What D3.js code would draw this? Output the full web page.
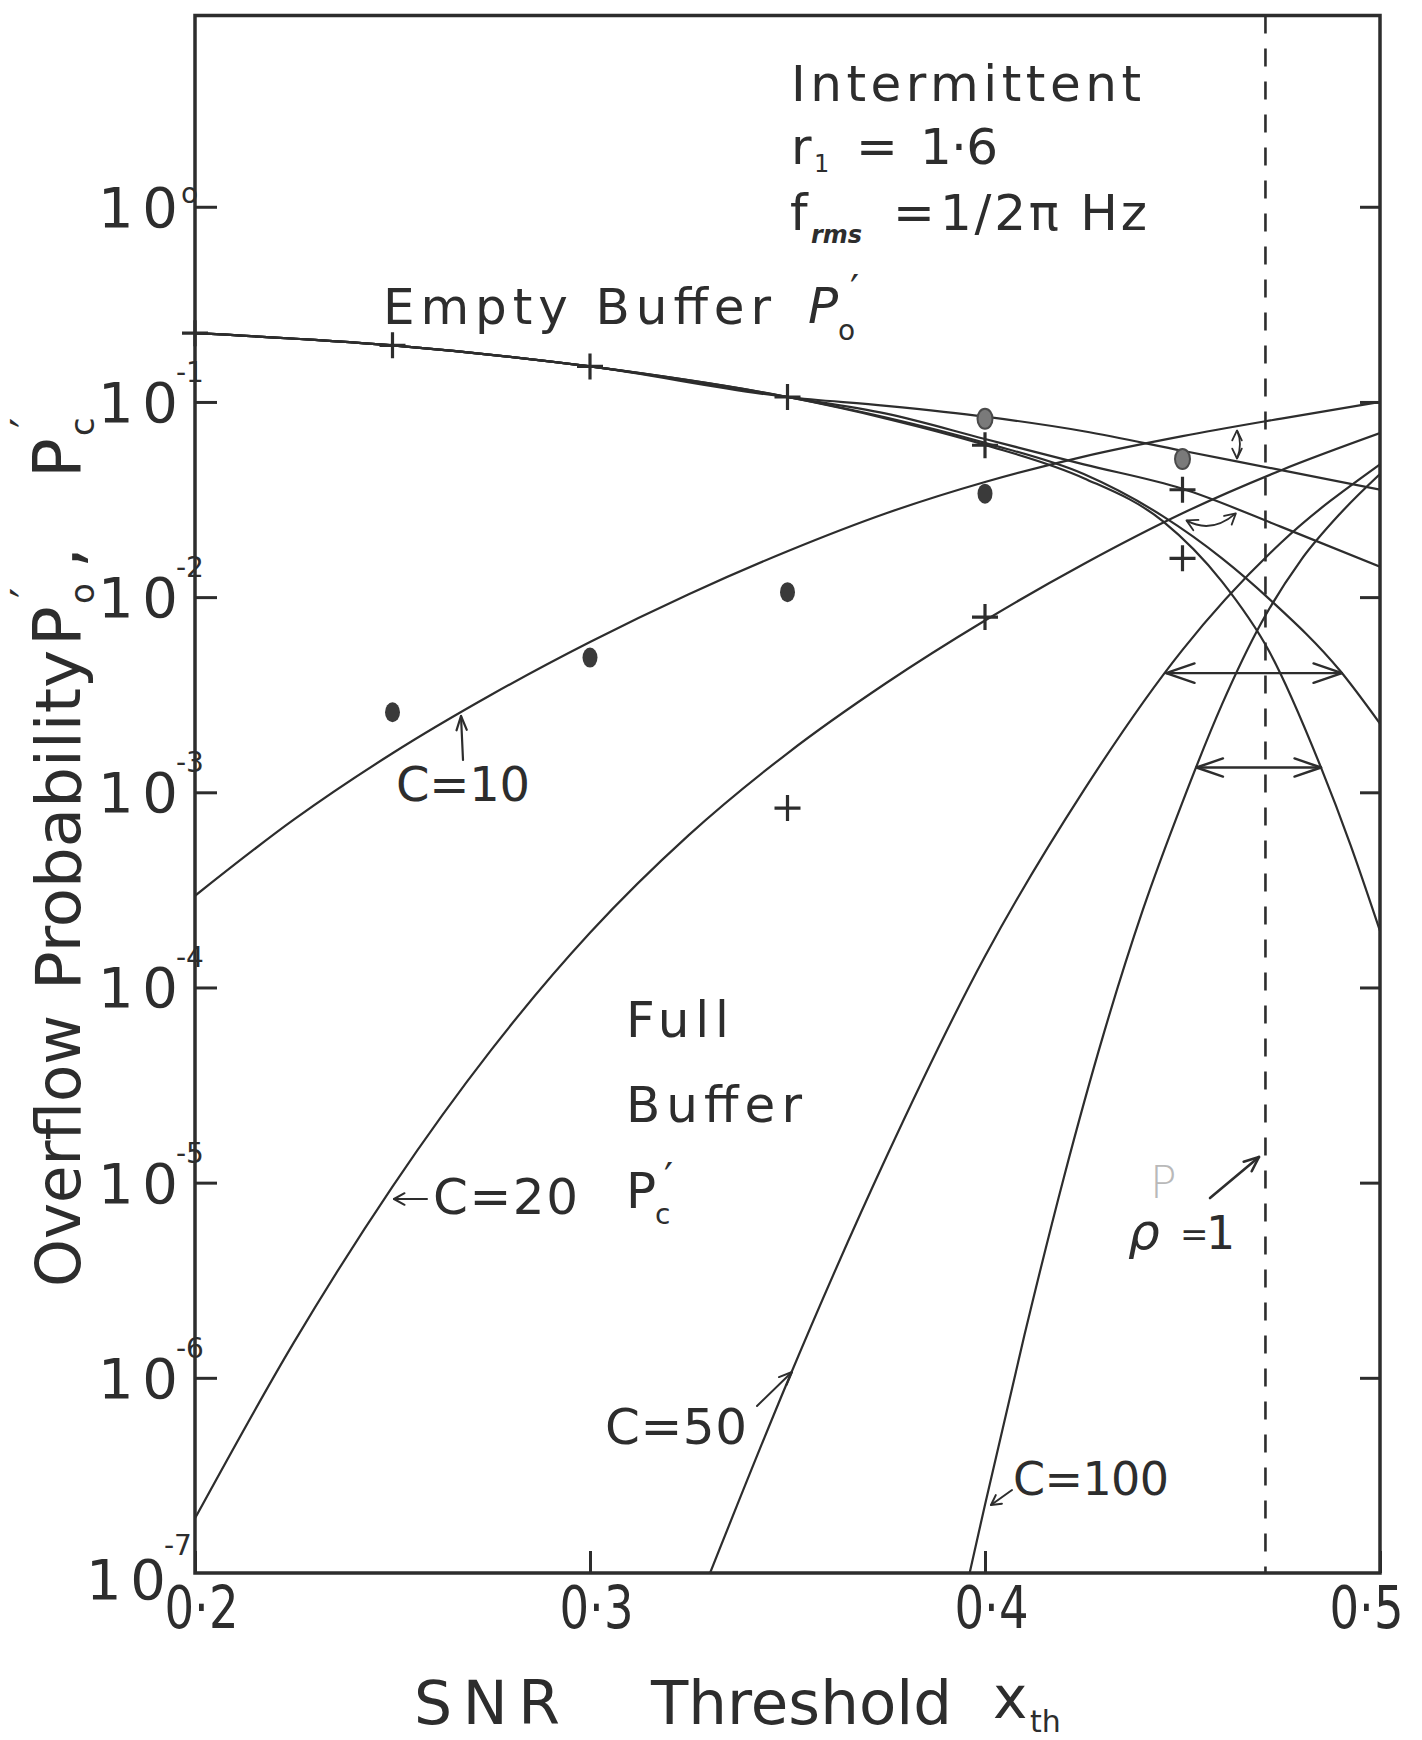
<!DOCTYPE html>
<html>
<head>
<meta charset="utf-8">
<script src="https://cdn.jsdelivr.net/npm/d3@7"></script>
<style>
  body { margin: 0; background: #ffffff; }
  svg { display: block; }
  text { font-family: "DejaVu Sans", "Liberation Sans", sans-serif; fill: #2d2d2d; }
</style>
</head>
<body>
<svg id="chart" width="1422" height="1740"></svg>
<script>
// ---- Analytic curves: empty-buffer probability P0' for each buffer size C ----
const emptyBufferX     = [0.20, 0.25, 0.30, 0.35, 0.375, 0.40, 0.425, 0.45, 0.475, 0.50];
const emptyBufferC10   = [0.225, 0.195, 0.152, 0.106, 0.0955, 0.0841, 0.0708, 0.0562, 0.0447, 0.0355];
const emptyBufferC20   = [0.225, 0.195, 0.152, 0.106, 0.0871, 0.0646, 0.0479, 0.0359, 0.0229, 0.0143];
const emptyBufferC50X  = [0.20, 0.25, 0.30, 0.35, 0.375, 0.40, 0.425, 0.445, 0.46, 0.472, 0.49, 0.50];
const emptyBufferC50   = [0.225, 0.195, 0.152, 0.106, 0.0832, 0.0617, 0.0427, 0.0260, 0.0158, 0.00977, 0.00417, 0.00225];
const emptyBufferC100X = [0.20, 0.25, 0.30, 0.35, 0.375, 0.40, 0.425, 0.445, 0.46, 0.472, 0.485, 0.4925, 0.50];
const emptyBufferC100  = [0.225, 0.195, 0.152, 0.106, 0.0822, 0.0603, 0.0407, 0.0245, 0.0120, 0.00525, 0.00135, 5.4e-4, 1.95e-4];

// ---- Analytic curves: full-buffer probability Pc' for each buffer size C ----
const fullBufferX     = [0.20, 0.225, 0.25, 0.275, 0.30, 0.325, 0.35, 0.375, 0.40, 0.425, 0.45, 0.475, 0.50];
const fullBufferC10   = [2.95e-4, 7.24e-4, 1.585e-3, 3.16e-3, 5.89e-3, 1.035e-2, 1.718e-2, 2.69e-2, 3.89e-2, 5.25e-2, 6.68e-2, 8.22e-2, 0.100];
const fullBufferC20   = [1.905e-7, 1.514e-6, 9.55e-6, 4.79e-5, 1.905e-4, 6.03e-4, 1.585e-3, 3.63e-3, 7.59e-3, 1.479e-2, 2.69e-2, 4.47e-2, 6.92e-2];
const fullBufferC50X  = [0.33, 0.35, 0.375, 0.40, 0.425, 0.45, 0.475, 0.50];
const fullBufferC50   = [9.55e-8, 9.55e-7, 1.349e-5, 1.445e-4, 1.023e-3, 5.37e-3, 1.905e-2, 4.79e-2];
const fullBufferC100X = [0.395, 0.40, 0.41, 0.42, 0.43, 0.44, 0.45, 0.46, 0.47, 0.48, 0.49, 0.50];
const fullBufferC100  = [7.94e-8, 2.24e-7, 1.66e-6, 1.07e-5, 5.75e-5, 2.51e-4, 8.91e-4, 2.82e-3, 7.41e-3, 1.549e-2, 2.69e-2, 4.27e-2];

// ---- Simulation points ----
const simPlusX     = [0.20, 0.25, 0.30, 0.35, 0.40, 0.45, 0.45, 0.35, 0.40];
const simPlusP     = [0.225, 0.195, 0.152, 0.106, 0.060, 0.0355, 0.0158, 8.3e-4, 7.9e-3];
const simDotFullX  = [0.25, 0.30, 0.35, 0.40];
const simDotFullP  = [2.57e-3, 4.9e-3, 1.06e-2, 3.39e-2];
const simDotEmptyX = [0.40, 0.45];
const simDotEmptyP = [0.082, 0.051];

// ---- Axes ----
const yExponents  = [0, -1, -2, -3, -4, -5, -6, -7];
const xTickValues = [0.2, 0.3, 0.4, 0.5];
const xTickLabels = ["0·2", "0·3", "0·4", "0·5"];
const rhoOneX = 0.471;   // threshold at which rho = 1

const ink = "#2d2d2d";
const svg = d3.select("#chart");

const x = d3.scaleLinear().domain([0.2, 0.5]).range([195, 1380]);
const y = d3.scaleLog().domain([1e-7, Math.pow(10, 0.98)]).range([1573, 15.5]);

const [x0, x1] = x.range();
const [yb, yt] = y.range();

svg.append("defs").append("clipPath").attr("id", "plotArea")
  .append("rect").attr("x", x0).attr("y", yt).attr("width", x1 - x0).attr("height", yb - yt);

// ---- helpers ----
const zip = (xs, ps) => xs.map((v, i) => [v, ps[i]]);
function valueAt(xs, ps, xv) {
  for (let i = 0; i < xs.length - 1; i++) {
    if (xv >= xs[i] && xv <= xs[i + 1]) {
      const t = (xv - xs[i]) / (xs[i + 1] - xs[i]);
      return Math.pow(10, Math.log10(ps[i]) + t * (Math.log10(ps[i + 1]) - Math.log10(ps[i])));
    }
  }
  return ps[ps.length - 1];
}
function thresholdAt(xs, ps, pv) {
  const lv = Math.log10(pv);
  for (let i = 0; i < xs.length - 1; i++) {
    const a = Math.log10(ps[i]), b = Math.log10(ps[i + 1]);
    if ((lv - a) * (lv - b) <= 0 && a !== b) {
      return xs[i] + (lv - a) / (b - a) * (xs[i + 1] - xs[i]);
    }
  }
  return xs[xs.length - 1];
}
function chevron(g, fx, fy, tx, ty, len, spread, width) {
  const a = Math.atan2(ty - fy, tx - fx);
  const p1 = [tx - len * Math.cos(a - spread), ty - len * Math.sin(a - spread)];
  const p2 = [tx - len * Math.cos(a + spread), ty - len * Math.sin(a + spread)];
  g.append("path").attr("d", `M${p1[0]},${p1[1]}L${tx},${ty}L${p2[0]},${p2[1]}`)
    .attr("fill", "none").attr("stroke", ink).attr("stroke-width", width || 2.2)
    .attr("stroke-linejoin", "round").attr("stroke-linecap", "round");
}
function arrowLine(g, fx, fy, tx, ty, len, spread, width) {
  g.append("line").attr("x1", fx).attr("y1", fy).attr("x2", tx).attr("y2", ty)
    .attr("stroke", ink).attr("stroke-width", width || 2.2).attr("stroke-linecap", "round");
  chevron(g, fx, fy, tx, ty, len, spread, width);
}

// ---- ticks (inward) ----
const decadeTicks = yExponents.slice(0, 7).map(e => Math.pow(10, e));
const styleTicks = g => {
  g.select(".domain").remove();
  g.selectAll(".tick line").attr("stroke", ink).attr("stroke-width", 3);
};
svg.append("g").attr("transform", `translate(${x0},0)`)
  .call(d3.axisLeft(y).tickValues(decadeTicks).tickSize(-22).tickFormat(""))
  .call(styleTicks);
svg.append("g").attr("transform", `translate(${x1},0)`)
  .call(d3.axisRight(y).tickValues(decadeTicks).tickSize(-20).tickFormat(""))
  .call(styleTicks);
const gBottom = svg.append("g").attr("transform", `translate(0,${yb})`)
  .call(d3.axisBottom(x).tickValues(xTickValues).tickSize(-22).tickPadding(14)
    .tickFormat((d, i) => xTickLabels[i]))
  .call(styleTicks);
const lastTick = xTickLabels.length - 1;
gBottom.selectAll(".tick text")
  .attr("font-family", "DejaVu Sans").attr("font-size", 58).attr("fill", ink)
  .attr("x", (d, i) => i === lastTick ? -14 : 6)
  .attr("textLength", 74).attr("lengthAdjust", "spacingAndGlyphs");

// y tick labels: 10 with a raised exponent
const yLab = svg.append("g");
yExponents.forEach(e => {
  const v = Math.pow(10, e);
  const last = e === -7;
  const xr = last ? 166 : 178;
  const base = y(v) + (last ? 26 : 20);
  yLab.append("text").attr("x", xr).attr("y", base).attr("text-anchor", "end")
    .attr("font-size", 56).attr("textLength", 80).attr("lengthAdjust", "spacing").text("10");
  if (e === 0) {
    yLab.append("text").attr("x", xr + 3).attr("y", y(v) - 4).attr("font-size", 28).text("o");
  } else {
    yLab.append("text").attr("x", xr - 2).attr("y", y(v) - (last ? 18 : 20))
      .attr("font-size", 28).text("-" + (-e));
  }
});

// ---- frame ----
svg.append("rect").attr("x", x0).attr("y", yt).attr("width", x1 - x0).attr("height", yb - yt)
  .attr("fill", "none").attr("stroke", ink).attr("stroke-width", 3.5);

// ---- rho = 1 boundary ----
svg.append("line").attr("x1", x(rhoOneX)).attr("x2", x(rhoOneX)).attr("y1", yt).attr("y2", yb)
  .attr("stroke", ink).attr("stroke-width", 2.6).attr("stroke-dasharray", "18 15");

// ---- curves ----
const line = d3.line().x(d => x(d[0])).y(d => y(d[1])).curve(d3.curveMonotoneX);
const curveSets = [
  zip(emptyBufferX, emptyBufferC10), zip(emptyBufferX, emptyBufferC20),
  zip(emptyBufferC50X, emptyBufferC50), zip(emptyBufferC100X, emptyBufferC100),
  zip(fullBufferX, fullBufferC10), zip(fullBufferX, fullBufferC20),
  zip(fullBufferC50X, fullBufferC50), zip(fullBufferC100X, fullBufferC100)
];
svg.append("g").attr("clip-path", "url(#plotArea)")
  .selectAll("path").data(curveSets).join("path")
  .attr("d", line).attr("fill", "none").attr("stroke", ink).attr("stroke-width", 2.2);

// ---- simulation markers ----
const marks = svg.append("g");
marks.selectAll("path.plus").data(zip(simPlusX, simPlusP)).join("path").attr("class", "plus")
  .attr("d", d => { const cx = x(d[0]), cy = y(d[1]); return `M${cx - 13},${cy}H${cx + 13}M${cx},${cy - 13}V${cy + 13}`; })
  .attr("stroke", ink).attr("stroke-width", 3.2).attr("fill", "none");
marks.selectAll("ellipse.full").data(zip(simDotFullX, simDotFullP)).join("ellipse").attr("class", "full")
  .attr("cx", d => x(d[0])).attr("cy", d => y(d[1])).attr("rx", 7.5).attr("ry", 10)
  .attr("fill", "#3a3a3a");
marks.selectAll("ellipse.empty").data(zip(simDotEmptyX, simDotEmptyP)).join("ellipse").attr("class", "empty")
  .attr("cx", d => x(d[0])).attr("cy", d => y(d[1])).attr("rx", 7.5).attr("ry", 10)
  .attr("fill", "#7a7a7a").attr("stroke", "#4a4a4a").attr("stroke-width", 2);

// ---- double arrows linking each C's full- and empty-buffer curves ----
const ann = svg.append("g");
{ // C = 10: vertical
  const xv = 0.4638;
  const ya = y(valueAt(fullBufferX, fullBufferC10, xv)) + 4;
  const yb2 = y(valueAt(emptyBufferX, emptyBufferC10, xv)) - 3;
  const xx = x(xv);
  ann.append("path").attr("d", `M${xx},${ya}Q${xx + 6},${(ya + yb2) / 2} ${xx},${yb2}`)
    .attr("fill", "none").attr("stroke", ink).attr("stroke-width", 1.8);
  chevron(ann, xx, ya + 10, xx, ya, 11, 0.45, 1.8);
  chevron(ann, xx, yb2 - 10, xx, yb2, 11, 0.45, 1.8);
}
{ // C = 20: curved
  const xa = 0.4505, xb = 0.4635;
  const pa = [x(xa) + 2, y(valueAt(fullBufferX, fullBufferC20, xa)) + 8];
  const pb = [x(xb), y(valueAt(emptyBufferX, emptyBufferC20, xb)) + 4];
  ann.append("path").attr("d", `M${pa}Q${(pa[0] + pb[0]) / 2},${pa[1] + 14} ${pb}`)
    .attr("fill", "none").attr("stroke", ink).attr("stroke-width", 1.8);
  chevron(ann, pa[0] + 10, pa[1] + 5, pa[0], pa[1], 12, 0.5, 1.8);
  chevron(ann, pb[0] - 8, pb[1] + 7, pb[0], pb[1], 12, 0.5, 1.8);
}
{ // C = 50: horizontal
  const pv = 4.08e-3;
  const xa = x(thresholdAt(fullBufferC50X, fullBufferC50, pv));
  const xb = x(thresholdAt(emptyBufferC50X, emptyBufferC50, pv));
  const yy = y(pv);
  arrowLine(ann, xb, yy, xa, yy, 30, 0.33, 2.4);
  chevron(ann, xa, yy, xb, yy, 30, 0.33, 2.4);
}
{ // C = 100: horizontal
  const pv = 1.34e-3;
  const xa = x(thresholdAt(fullBufferC100X, fullBufferC100, pv));
  const xb = x(thresholdAt(emptyBufferC100X, emptyBufferC100, pv));
  const yy = y(pv);
  arrowLine(ann, xb, yy, xa, yy, 28, 0.33, 2.4);
  chevron(ann, xa, yy, xb, yy, 28, 0.33, 2.4);
}

// ---- parameter block ----
const t = svg.append("g");
t.append("text").attr("x", 791).attr("y", 101).attr("font-size", 50)
  .attr("textLength", 350).attr("lengthAdjust", "spacing").text("Intermittent");
t.append("text").attr("x", 791).attr("y", 164).attr("font-size", 50).text("r");
t.append("text").attr("x", 814).attr("y", 172).attr("font-size", 24).text("1");
t.append("text").attr("x", 856).attr("y", 164).attr("font-size", 50).text("=");
t.append("text").attr("x", 920).attr("y", 164).attr("font-size", 50)
  .attr("textLength", 78).attr("lengthAdjust", "spacing").text("1·6");
t.append("text").attr("x", 790).attr("y", 230).attr("font-size", 50).text("f");
t.append("text").attr("x", 811).attr("y", 243).attr("font-size", 24)
  .attr("font-weight", "bold").attr("font-style", "italic").text("rms");
t.append("text").attr("x", 893).attr("y", 230).attr("font-size", 50).text("=");
t.append("text").attr("x", 940).attr("y", 230).attr("font-size", 50)
  .attr("textLength", 207).attr("lengthAdjust", "spacing").text("1/2π Hz");

// ---- curve-family labels ----
t.append("text").attr("x", 383).attr("y", 324).attr("font-size", 50)
  .attr("textLength", 388).attr("lengthAdjust", "spacing").text("Empty Buffer");
t.append("text").attr("x", 808).attr("y", 323).attr("font-size", 50).attr("font-style", "italic").text("P");
t.append("text").attr("x", 838).attr("y", 340).attr("font-size", 28).text("o");
t.append("text").attr("x", 850).attr("y", 304).attr("font-size", 40).text("′");

t.append("text").attr("x", 396).attr("y", 801).attr("font-size", 48)
  .attr("textLength", 134).attr("lengthAdjust", "spacing").text("C=10");
arrowLine(t, 463, 760, 461, 716, 15, 0.35, 2.2);

t.append("text").attr("x", 626).attr("y", 1037).attr("font-size", 50)
  .attr("textLength", 103).attr("lengthAdjust", "spacing").text("Full");
t.append("text").attr("x", 626).attr("y", 1122).attr("font-size", 50)
  .attr("textLength", 176).attr("lengthAdjust", "spacing").text("Buffer");
t.append("text").attr("x", 626).attr("y", 1208).attr("font-size", 50).text("P");
t.append("text").attr("x", 655).attr("y", 1224).attr("font-size", 28).text("c");
t.append("text").attr("x", 664).attr("y", 1192).attr("font-size", 40).text("′");

t.append("text").attr("x", 433).attr("y", 1214).attr("font-size", 50)
  .attr("textLength", 145).attr("lengthAdjust", "spacing").text("C=20");
arrowLine(t, 427, 1199, 394, 1199, 12, 0.5, 2);

t.append("text").attr("x", 605).attr("y", 1444).attr("font-size", 50)
  .attr("textLength", 142).attr("lengthAdjust", "spacing").text("C=50");
arrowLine(t, 757, 1406, 792, 1372, 14, 0.4, 2);

t.append("text").attr("x", 1013).attr("y", 1495).attr("font-size", 46)
  .attr("textLength", 156).attr("lengthAdjust", "spacing").text("C=100");
arrowLine(t, 1012, 1490, 991, 1505, 11, 0.5, 2);

// rho = 1 note, with the pencilled letter above it
t.append("text").attr("x", 1150).attr("y", 1198).attr("font-size", 44)
  .attr("font-weight", "200").style("fill", "#b9b9b9").text("P");
t.append("text").attr("x", 1128).attr("y", 1249).attr("font-size", 50).attr("font-style", "italic").text("ρ");
t.append("text").attr("x", 1180).attr("y", 1246).attr("font-size", 34).text("=");
t.append("text").attr("x", 1206).attr("y", 1249).attr("font-size", 46).text("1");
arrowLine(t, 1210, 1198, 1259, 1157, 16, 0.4, 2.6);

// ---- axis titles ----
const xt = svg.append("g");
xt.append("text").attr("x", 414).attr("y", 1724).attr("font-size", 60)
  .attr("textLength", 146).attr("lengthAdjust", "spacing").text("SNR");
xt.append("text").attr("x", 651).attr("y", 1724).attr("font-size", 60)
  .attr("textLength", 301).attr("lengthAdjust", "spacingAndGlyphs").text("Threshold");
xt.append("text").attr("x", 993).attr("y", 1718).attr("font-size", 58).text("x");
xt.append("text").attr("x", 1030).attr("y", 1732).attr("font-size", 30).text("th");

const yt2 = svg.append("g");
yt2.append("text").attr("transform", "translate(80,1287) rotate(-90)").attr("font-size", 62)
  .attr("textLength", 272).attr("lengthAdjust", "spacingAndGlyphs").text("Overflow");
yt2.append("text").attr("transform", "translate(80,990) rotate(-90)").attr("font-size", 62)
  .attr("textLength", 340).attr("lengthAdjust", "spacingAndGlyphs").text("Probability");
const pl = yt2.append("g").attr("transform", "translate(80,646) rotate(-90)");
pl.append("text").attr("x", 0).attr("y", 0).attr("font-size", 66).text("P");
pl.append("text").attr("x", 42).attr("y", 14).attr("font-size", 34).text("o");
pl.append("text").attr("x", 48).attr("y", -36).attr("font-size", 46).text("′");
pl.append("text").attr("x", 78).attr("y", 0).attr("font-size", 66).text(",");
pl.append("text").attr("x", 168).attr("y", 0).attr("font-size", 66).text("P");
pl.append("text").attr("x", 210).attr("y", 14).attr("font-size", 34).text("c");
pl.append("text").attr("x", 218).attr("y", -36).attr("font-size", 46).text("′");
</script>
</body>
</html>
